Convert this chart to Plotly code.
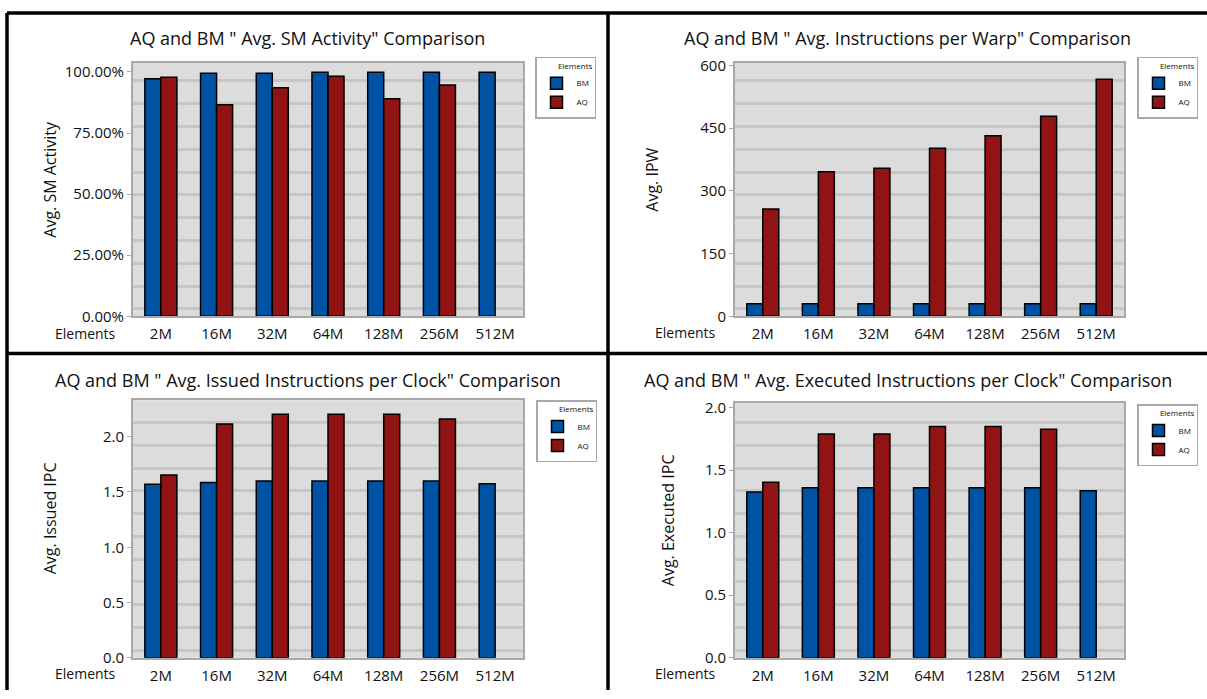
import plotly.graph_objects as go

# ---- data -------------------------------------------------------------
categories = ["2M", "16M", "32M", "64M", "128M", "256M", "512M"]

sm_activity_bm = [0.972, 0.995, 0.995, 0.999, 0.999, 0.999, 0.999]
sm_activity_aq = [0.978, 0.866, 0.935, 0.982, 0.890, 0.946, None]

ipw_bm = [30, 30, 30, 30, 30, 30, 30]
ipw_aq = [257, 346, 354, 402, 432, 479, 567]

issued_ipc_bm = [1.571, 1.586, 1.600, 1.600, 1.600, 1.600, 1.574]
issued_ipc_aq = [1.654, 2.115, 2.203, 2.203, 2.203, 2.161, None]

executed_ipc_bm = [1.325, 1.359, 1.359, 1.359, 1.359, 1.359, 1.335]
executed_ipc_aq = [1.403, 1.787, 1.787, 1.847, 1.847, 1.826, None]

panel_titles = [
    'AQ and BM " Avg. SM Activity" Comparison',
    'AQ and BM " Avg. Instructions per Warp" Comparison',
    'AQ and BM " Avg. Issued Instructions per Clock" Comparison',
    'AQ and BM " Avg. Executed Instructions per Clock" Comparison',
]
y_titles = ["Avg. SM Activity", "Avg. IPW", "Avg. Issued IPC", "Avg. Executed IPC"]
x_title = "Elements"
legend_title = "Elements"
series_names = ["BM", "AQ"]

# ---- styling / geometry ----------------------------------------------
W, H = 1207, 699
FONT = "Open Sans"
BLUE = "#0053a4"
RED = "#911414"
PLOT_BG = "#dcdcdc"
GRID = "#c6c6c6"
AXIS_GREY = "#a9a9a9"
TEXT = "#111111"
GRID_STEP_PX = 23.35   # spacing of the horizontal bands in each plot
GRID_OFFSET_PX = 7.7   # distance of the lowest band above the baseline

# plot boxes in pixels: left, right, top, bottom
boxes = [
    (133, 523, 56, 316),
    (735, 1124, 56, 316),
    (133, 523, 402, 666),
    (735, 1124, 405, 666),
]
y_ranges = [[0, 1.038], [0, 607], [0, 2.33], [0, 2.034]]
y_dticks = [0.25, 150, 0.5, 0.5]
y_formats = [".2%", "d", ".1f", ".1f"]
legend_pos = [(535, 50), (1137, 50), (536, 402), (1137, 406)]
panel_centers_x = [307.5, 908]
title_y = [31, 31, 381, 381]
ytitle_pos = [(50, 176), (652, 176), (50, 523), (668, 525)]
elements_pos = [(118, 334), (718, 333), (118, 682), (718, 682)]

series = [
    (sm_activity_bm, sm_activity_aq),
    (ipw_bm, ipw_aq),
    (issued_ipc_bm, issued_ipc_aq),
    (executed_ipc_bm, executed_ipc_aq),
]

fig = go.Figure()
layout = {}
annotations = []

for i, (bm, aq) in enumerate(series):
    n = i + 1
    sx = "" if n == 1 else str(n)
    xa, ya, lg = f"x{sx}", f"y{sx}", f"legend{sx}"
    for name, vals, color in ((series_names[0], bm, BLUE), (series_names[1], aq, RED)):
        fig.add_trace(go.Bar(
            x=categories, y=vals, name=name, xaxis=xa, yaxis=ya, legend=lg,
            marker=dict(color=color, line=dict(color="black", width=1.5)),
            hoverinfo="skip",
        ))
    # carrier for the banded grid axis
    fig.add_trace(go.Scatter(x=[None], y=[None], xaxis=xa, yaxis=f"y{n + 4}",
                             showlegend=False, hoverinfo="skip"))

    l, r, t, b = boxes[i]
    layout[f"xaxis{sx}"] = dict(
        domain=[l / W, r / W], anchor=ya, type="category", range=[-0.5, 6.5],
        showline=True, mirror=True, linecolor=AXIS_GREY, linewidth=2,
        ticks="outside", ticklen=3, tickcolor="rgba(0,0,0,0)",
        tickfont=dict(size=15, color=TEXT), showgrid=False, fixedrange=True,
    )
    layout[f"yaxis{sx}"] = dict(
        domain=[1 - b / H, 1 - t / H], anchor=xa, range=y_ranges[i],
        tick0=0, dtick=y_dticks[i], tickformat=y_formats[i],
        showline=True, mirror=True, linecolor=AXIS_GREY, linewidth=2,
        ticks="outside", ticklen=4, tickcolor=AXIS_GREY,
        tickfont=dict(size=15, color=TEXT), showgrid=False, zeroline=False,
        fixedrange=True,
    )
    plot_h = b - t
    layout[f"yaxis{n + 4}"] = dict(
        overlaying=ya, anchor=xa,
        range=[-GRID_OFFSET_PX / GRID_STEP_PX, (plot_h - GRID_OFFSET_PX) / GRID_STEP_PX],
        tick0=0, dtick=1, showgrid=True, gridcolor=GRID, gridwidth=3,
        showticklabels=False, ticks="", zeroline=False, showline=False,
        fixedrange=True,
    )
    lx, ly = legend_pos[i]
    layout[lg] = dict(
        x=lx / W, y=1 - ly / H, xanchor="left", yanchor="top",
        bgcolor="white", bordercolor=AXIS_GREY, borderwidth=1.5,
        font=dict(size=8, color=TEXT, family=FONT),
        title=dict(text=legend_title, side="top right", font=dict(size=8, color=TEXT)),
        itemwidth=30, tracegroupgap=0,
    )

    annotations.append(dict(
        text=panel_titles[i], x=panel_centers_x[i % 2] / W, y=1 - title_y[i] / H,
        xref="paper", yref="paper", xanchor="center", yanchor="middle",
        showarrow=False, font=dict(size=18, color=TEXT),
    ))
    tx, ty = ytitle_pos[i]
    annotations.append(dict(
        text=y_titles[i], x=tx / W, y=1 - ty / H, textangle=-90,
        xref="paper", yref="paper", xanchor="center", yanchor="middle",
        showarrow=False, font=dict(size=16, color=TEXT),
    ))
    ex, ey = elements_pos[i]
    annotations.append(dict(
        text=x_title, x=ex / W, y=1 - ey / H,
        xref="paper", yref="paper", xanchor="right", yanchor="middle",
        showarrow=False, font=dict(size=14, color=TEXT),
    ))

# black frame around the four panels
frame = dict(type="line", xref="paper", yref="paper", line=dict(color="black", width=3.5))
shapes = [
    dict(frame, x0=7 / W, x1=1, y0=1 - 5 / H, y1=1 - 5 / H),
    dict(frame, x0=7 / W, x1=7 / W, y0=0, y1=1 - 5 / H),
    dict(frame, x0=608 / W, x1=608 / W, y0=0, y1=1 - 5 / H),
    dict(frame, x0=7 / W, x1=1, y0=1 - 354 / H, y1=1 - 354 / H),
]

fig.update_layout(
    width=W, height=H,
    margin=dict(l=0, r=0, t=0, b=0),
    paper_bgcolor="white", plot_bgcolor=PLOT_BG,
    font=dict(family=FONT, color=TEXT),
    barmode="group", bargap=0.425, bargroupgap=0,
    annotations=annotations, shapes=shapes,
    hovermode=False,
    **layout,
)

fig.write_html("out.html", config={"displayModeBar": False})
